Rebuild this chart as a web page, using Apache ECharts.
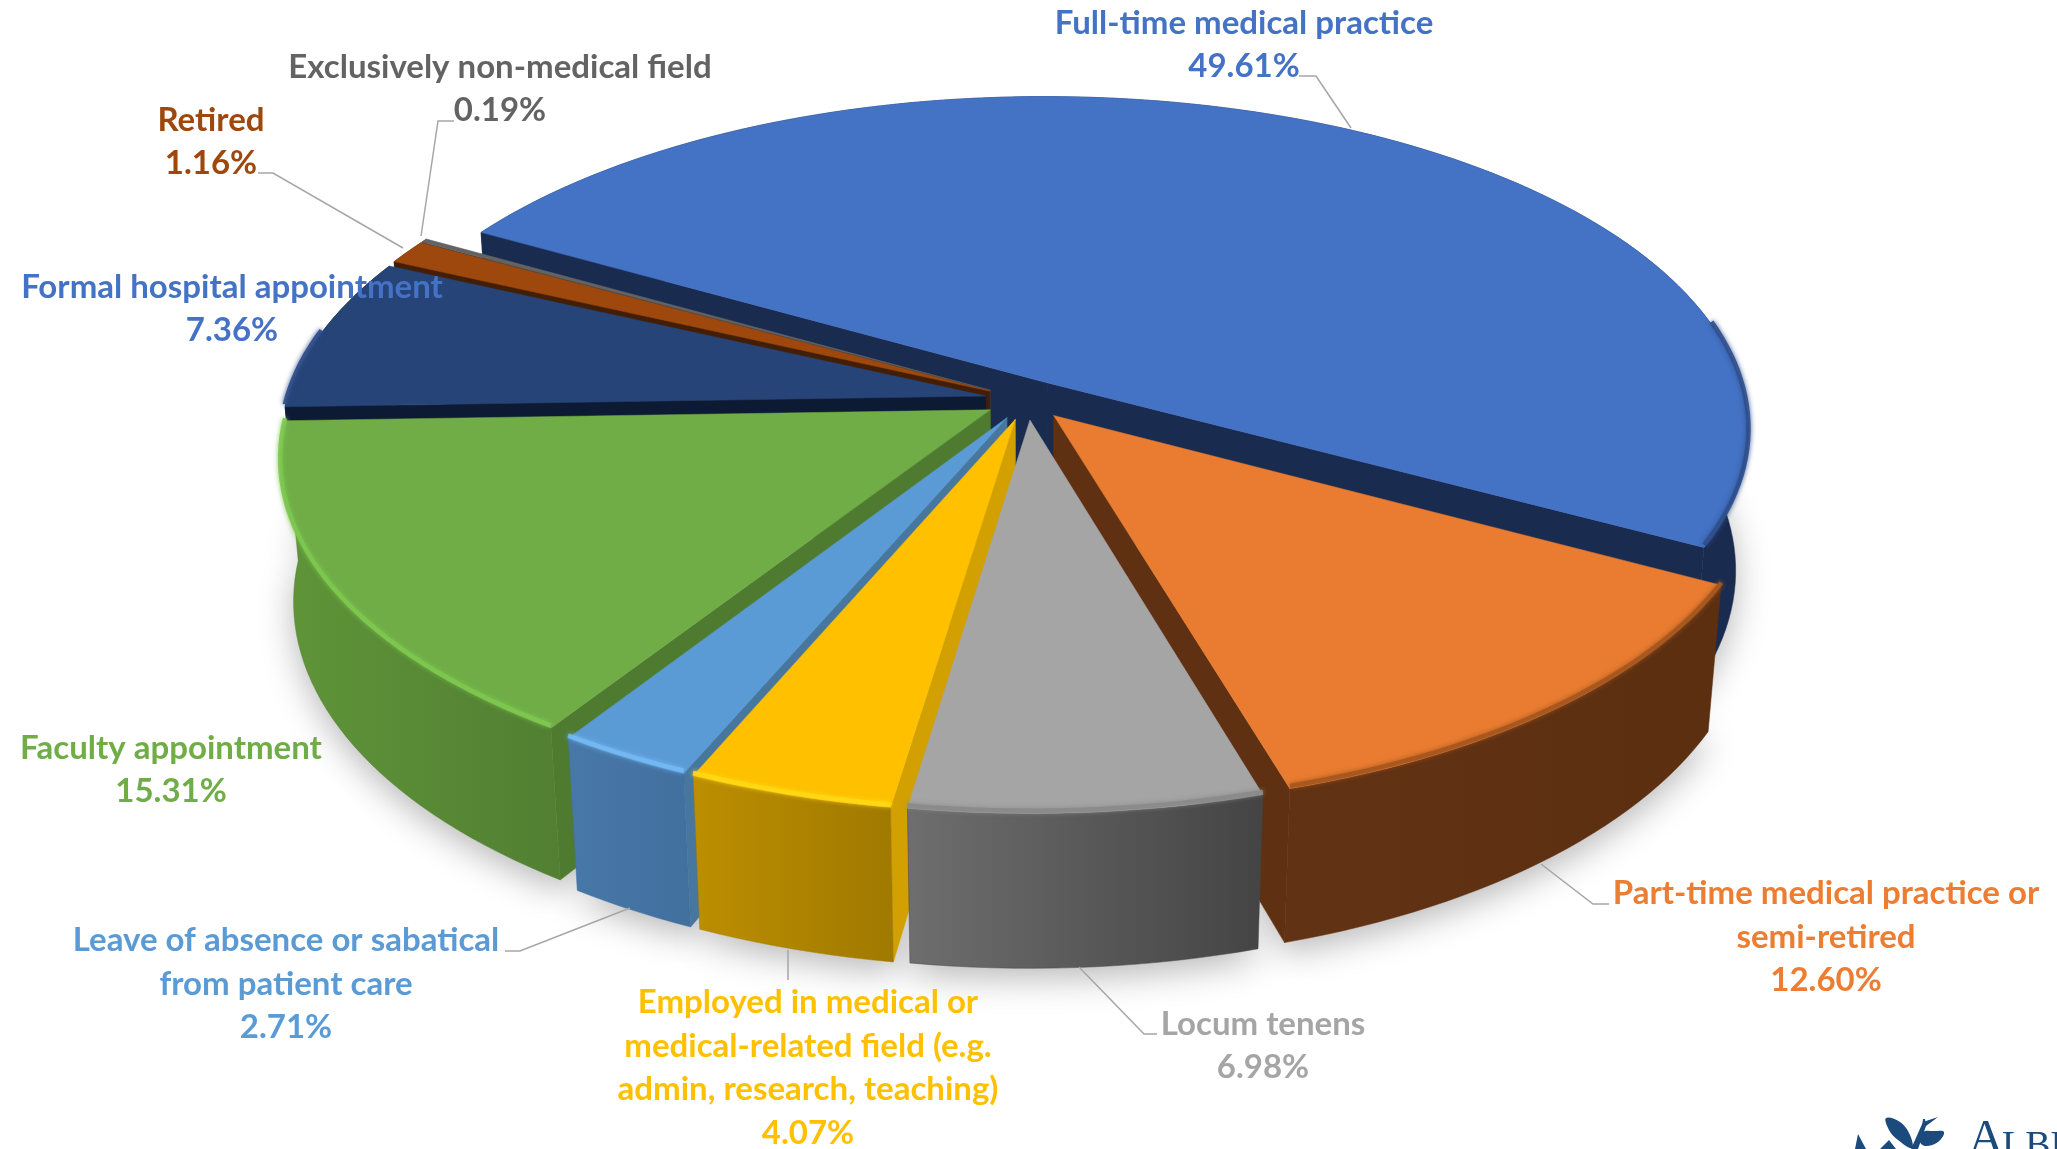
<!DOCTYPE html>
<html><head><meta charset="utf-8">
<style>html,body{margin:0;padding:0;background:#fff;overflow:hidden}#c{width:2057px;height:1149px}</style>
<script src="https://cdn.jsdelivr.net/npm/echarts@6/dist/echarts.min.js"></script>
</head><body><div id="c"></div>
<script>
// ---- data ----
const categories = [
  'Full-time medical practice',
  'Part-time medical practice or\nsemi-retired',
  'Locum tenens',
  'Employed in medical or\nmedical-related field (e.g.\nadmin, research, teaching)',
  'Leave of absence or sabatical\nfrom patient care',
  'Faculty appointment',
  'Formal hospital appointment',
  'Retired',
  'Exclusively non-medical field'
];
const shares = [49.61, 12.60, 6.98, 4.07, 2.71, 15.31, 7.36, 1.16, 0.19];

// ---- styles ----
const topColors  = ['#4472C4','#E97C30','#A5A5A5','#FFC000','#5B9BD5','#70AD47','#264478','#9E480E','#636363'];
const cutColors  = ['#1A2B50','#5F3112','#6A6A6A','#D2A000','#47769F','#4F7B30','#0C1A33','#431E06','#3A3A3A'];
const wallLeft   = ['#1A2B50','#623214','#6E6E6E','#BC8E00','#4878A8','#5F9539','#0C1A33','#431E06','#3A3A3A'];
const wallRight  = ['#1A2B50','#5C2F11','#444444','#A07900','#41709F','#527F32','#0C1A33','#431E06','#3A3A3A'];
const rimColors  = ['#2F4F8C','#A5561F','#8A8A8A','#FFD814','#74B8F4','#7DC850','#2C4A85','#9E480E','#636363'];
const labelColors= ['#4472C4','#ED7D31','#A5A5A5','#FFC000','#5B9BD5','#70AD47','#4472C4','#9E480E','#636363'];

// ---- layout (pixels) ----
const labelCenters = [[1244,45],[1826,937],[1263,1046],[808,1068],[286,984],[171,770],[232,309],[211,142],[500,89]];
const leaders = [
  [[1299,76],[1316,76],[1351,128]],
  [[1609,904],[1593,904],[1541,864]],
  [[1157,1034],[1144,1034],[1079,967]],
  [[788,980],[788,950]],
  [[505,951],[520,951],[630,908]],
  null,
  null,
  [[258,173],[273,173],[403,248]],
  [[454,121],[438,121],[421,236]]
];
const CX = 1027, CY = 400, P = 699, D = 6.2, H = 0.23, EXPLODE = 0.06, START = -60.5;
const PHI = 28.3 * Math.PI / 180;
const sinP = Math.sin(PHI), cosP = Math.cos(PHI);
const total = shares.reduce((a, b) => a + b, 0);
const deg = Math.PI / 180;

function project(X, Y, Z) {
  const up = Y * sinP + Z * cosP;
  const depth = Y * cosP - Z * sinP;
  const s = 1 / (1 + depth / D);
  return [CX + P * X * s, CY - P * up * s];
}
const starts = [];
shares.reduce((acc, v, i) => { starts[i] = acc; return acc + v; }, 0);
const mids = shares.map((v, i) => START + (starts[i] + v / 2) / total * 360);
// painter's order: back slices first
const paintOrder = mids.map((m, i) => [Math.cos(m * deg), i]).sort((a, b) => b[0] - a[0]).map(p => p[1]);

function area(pts) {
  let a = 0;
  for (let i = 0; i < pts.length; i++) {
    const p = pts[i], q = pts[(i + 1) % pts.length];
    a += p[0] * q[1] - q[0] * p[1];
  }
  return a / 2;
}

function geometry(api) {
  const i = api.value(1);
  const value = api.value(0);
  const a0 = START + starts[i] / total * 360;
  const a1 = a0 + value / total * 360;
  const mid = (a0 + a1) / 2 * deg;
  const ex = EXPLODE * Math.sin(mid), ey = EXPLODE * Math.cos(mid);
  const rimPt = (t, z) => project(ex + Math.sin(t), ey + Math.cos(t), z);
  const apex = z => project(ex, ey, z);
  const steps = Math.max(2, Math.ceil((a1 - a0) / 1.5));
  const angles = [];
  for (let k = 0; k <= steps; k++) angles.push((a0 + (a1 - a0) * k / steps) * deg);
  return { i, value, rimPt, apex, angles };
}

function renderShadow(params, api) {
  const g = geometry(api);
  return {
    type: 'polygon', silent: true,
    shape: { points: [g.apex(-H)].concat(g.angles.map(t => g.rimPt(t, -H))) },
    style: { fill: '#ececec', shadowBlur: 34, shadowOffsetY: 10, shadowColor: 'rgba(0,0,0,0.28)' }
  };
}

function renderSlice(params, api) {
  const { i, rimPt, apex, angles } = geometry(api);
  const topArc = angles.map(t => rimPt(t, 0));
  const botArc = angles.map(t => rimPt(t, -H));
  const children = [];
  // radial cut faces: only those facing the viewer
  [angles[0], angles[angles.length - 1]].forEach((t, n) => {
    const pts = [apex(0), rimPt(t, 0), rimPt(t, -H), apex(-H)];
    const facing = n === 0 ? area(pts) < 0 : area(pts) > 0;
    if (facing) {
      children.push({ type: 'polygon', silent: true, shape: { points: pts },
        style: { fill: cutColors[i], stroke: cutColors[i], lineWidth: 0.5 } });
    }
  });
  // outer wall
  children.push({
    type: 'polygon', silent: true,
    shape: { points: topArc.concat(botArc.slice().reverse()) },
    style: { fill: { type: 'linear', x: 0, y: 0, x2: 1, y2: 0,
      colorStops: [{ offset: 0, color: wallLeft[i] }, { offset: 1, color: wallRight[i] }] },
      stroke: wallRight[i], lineWidth: 0.5 }
  });
  // top face
  children.push({
    type: 'polygon', silent: true,
    shape: { points: [apex(0)].concat(topArc) },
    style: { fill: topColors[i], stroke: topColors[i], lineWidth: 0.5 }
  });
  // bevel along the front of the rim
  const rimPts = angles.filter(t => t > 0 && Math.cos(t) < 0.2).map(t => rimPt(t, 0.004));
  if (rimPts.length > 1) {
    children.push({
      type: 'polyline', silent: true,
      shape: { points: rimPts },
      style: { fill: null, stroke: rimColors[i], lineWidth: 4.5, opacity: 0.9, shadowBlur: 5, shadowColor: rimColors[i] }
    });
  }
  return { type: 'group', children };
}

function renderLabel(params, api) {
  const i = api.value(1), value = api.value(0);
  const children = [];
  if (leaders[i]) {
    children.push({ type: 'polyline', silent: true, shape: { points: leaders[i] },
      style: { fill: null, stroke: '#A6A6A6', lineWidth: 1.5 } });
  }
  children.push({
    type: 'text', silent: true,
    style: {
      x: labelCenters[i][0], y: labelCenters[i][1],
      text: categories[i] + '\n' + value.toFixed(2) + '%',
      fill: labelColors[i], align: 'center', verticalAlign: 'middle',
      fontFamily: 'Lato', fontWeight: 700, fontSize: 33, lineHeight: 43.5
    }
  });
  return { type: 'group', children };
}

const paintData = paintOrder.map(i => ({ name: categories[i], value: [shares[i], i] }));
const chart = echarts.init(document.getElementById('c'), null, { renderer: 'canvas' });
const logo = '#1B4A7C';
chart.setOption({
  animation: false,
  backgroundColor: '#ffffff',
  series: [
    { type: 'custom', coordinateSystem: 'none', z: 1, renderItem: renderShadow, clip: false, data: paintData },
    { type: 'custom', coordinateSystem: 'none', z: 2, renderItem: renderSlice, clip: false, data: paintData },
    { type: 'custom', coordinateSystem: 'none', z: 3, renderItem: renderLabel, clip: false, data: paintData }
  ],
  graphic: [
    { type: 'polygon', silent: true, shape: { smooth: 0.4, points: [[1886,1118],[1900,1122],[1910,1135],[1912,1148],[1898,1140],[1889,1130]] }, style: { fill: logo } },
    { type: 'polygon', silent: true, shape: { smooth: 0.4, points: [[1923,1132],[1934,1131],[1944,1132],[1938,1142],[1926,1146],[1920,1142]] }, style: { fill: logo } },
    { type: 'polygon', silent: true, shape: { points: [[1911,1149],[1923,1122],[1938,1117],[1926,1126],[1918,1149]] }, style: { fill: logo } },
    { type: 'polygon', silent: true, shape: { points: [[1922,1128],[1923,1119],[1925,1119],[1926,1126]] }, style: { fill: logo } },
    { type: 'polygon', silent: true, shape: { points: [[1855,1149],[1858,1134],[1866,1149]] }, style: { fill: logo } },
    { type: 'polygon', silent: true, shape: { points: [[1880,1149],[1889,1140],[1896,1149]] }, style: { fill: logo } },
    { type: 'text', silent: true, style: { x: 1968, y: 1166, text: 'A', fill: logo, fontFamily: 'Liberation Serif', fontSize: 50, verticalAlign: 'bottom' } },
    { type: 'text', silent: true, style: { x: 2002, y: 1166, text: 'LBE', fill: logo, fontFamily: 'Liberation Serif', fontSize: 38, verticalAlign: 'bottom' } }
  ]
});
</script></body></html>
